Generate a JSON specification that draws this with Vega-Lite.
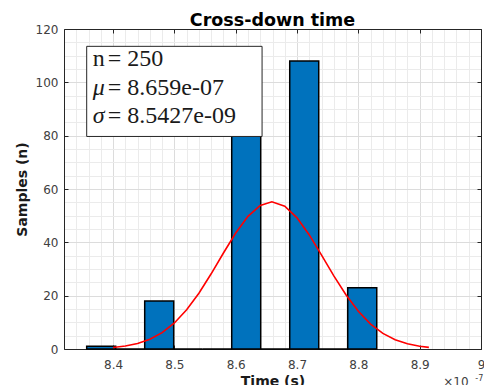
{
  "$schema": "https://vega.github.io/schema/vega-lite/v6.json",
  "autosize": {"type": "none"},
  "padding": {"left": 64, "top": 29, "right": 3, "bottom": 36},
  "width": 417,
  "height": 320,
  "background": "white",
  "title": {"text": "Cross-down time", "font": "DejaVu Sans", "fontSize": 17.5, "fontWeight": "bold", "color": "#000000", "offset": -20, "baseline": "alphabetic", "anchor": "middle"},
  "datasets": {
    "bins": [
      {"start": 8.357, "end": 8.4043, "count": 1},
      {"start": 8.4043, "end": 8.4516, "count": 0},
      {"start": 8.4516, "end": 8.4989, "count": 18},
      {"start": 8.4989, "end": 8.5462, "count": 0},
      {"start": 8.5462, "end": 8.5935, "count": 0},
      {"start": 8.5935, "end": 8.6408, "count": 100},
      {"start": 8.6408, "end": 8.6881, "count": 0},
      {"start": 8.6881, "end": 8.7354, "count": 108},
      {"start": 8.7354, "end": 8.7827, "count": 0},
      {"start": 8.7827, "end": 8.83, "count": 23}
    ],
    "curve": [
      {"t": 8.40, "v": 0.56}, {"t": 8.42, "v": 1.10}, {"t": 8.44, "v": 2.07}, {"t": 8.46, "v": 3.66},
      {"t": 8.48, "v": 6.14}, {"t": 8.50, "v": 9.77}, {"t": 8.52, "v": 14.69}, {"t": 8.54, "v": 20.92},
      {"t": 8.56, "v": 28.20}, {"t": 8.58, "v": 36.00}, {"t": 8.60, "v": 43.49}, {"t": 8.62, "v": 49.74},
      {"t": 8.64, "v": 53.85}, {"t": 8.659, "v": 55.2}, {"t": 8.68, "v": 53.56}, {"t": 8.70, "v": 49.19},
      {"t": 8.72, "v": 42.78}, {"t": 8.74, "v": 35.22}, {"t": 8.76, "v": 27.44}, {"t": 8.78, "v": 20.24},
      {"t": 8.80, "v": 14.14}, {"t": 8.82, "v": 9.35}, {"t": 8.84, "v": 5.85}, {"t": 8.86, "v": 3.47},
      {"t": 8.88, "v": 1.94}, {"t": 8.90, "v": 1.03}, {"t": 8.915, "v": 0.62}
    ],
    "box": [{"x1": 8.357, "x2": 8.643, "y1": 79.7, "y2": 113.5}],
    "stats": [
      {"x": 8.3668, "y": 106.0, "sym": "n", "style": "up", "rest": "= 250"},
      {"x": 8.3668, "y": 95.35, "sym": "μ", "style": "it", "rest": "= 8.659e-07"},
      {"x": 8.3668, "y": 84.7, "sym": "σ", "style": "it", "rest": "= 8.5427e-09"}
    ],
    "exp": [
      {"x": 8.9385, "y": -13.9, "label": "×10", "kind": "base"},
      {"x": 8.9907, "y": -12.0, "label": "-7", "kind": "sup"}
    ]
  },
  "resolve": {"axis": {"x": "independent", "y": "independent"}},
  "layer": [
    {
      "data": {"name": "box"},
      "mark": {"type": "rect", "opacity": 0},
      "encoding": {
        "x": {"field": "x1", "type": "quantitative", "scale": {"domain": [8.32, 9.0], "nice": false, "zero": false},
          "axis": {"orient": "top", "values": [8.32,8.34,8.36,8.38,8.42,8.44,8.46,8.48,8.52,8.54,8.56,8.58,8.62,8.64,8.66,8.68,8.72,8.74,8.76,8.78,8.82,8.84,8.86,8.88,8.92,8.94,8.96,8.98],
            "grid": true, "gridColor": "#ebebeb", "gridWidth": 1, "ticks": false, "labels": false, "domain": false, "title": null}},
        "y": {"field": "y1", "type": "quantitative", "scale": {"domain": [0, 120], "nice": false},
          "axis": {"orient": "right", "values": [5,10,15,25,30,35,45,50,55,65,70,75,85,90,95,105,110,115],
            "grid": true, "gridColor": "#ebebeb", "gridWidth": 1, "ticks": false, "labels": false, "domain": false, "title": null}}
      }
    },
    {
      "data": {"name": "bins"},
      "mark": {"type": "rect", "fill": "#0072BD", "stroke": "#000000", "strokeWidth": 1.5},
      "encoding": {
        "x": {"field": "start", "type": "quantitative",
          "axis": {"orient": "bottom", "values": [8.4, 8.5, 8.6, 8.7, 8.8, 8.9, 9.0],
            "labelExpr": "datum.value >= 8.999 ? '9' : format(datum.value, '.1f')", "labelFlush": false, "labelBound": false,
            "grid": true, "gridColor": "#dcdcdc", "tickSize": -4, "tickColor": "#262626", "domainColor": "#262626",
            "labelColor": "#404040", "labelFont": "DejaVu Sans", "labelFontSize": 12, "labelPadding": 14,
            "title": "Time (s)", "titleFont": "DejaVu Sans", "titleFontSize": 14, "titleFontWeight": "bold", "titleColor": "#1a1a1a", "titlePadding": 4}},
        "x2": {"field": "end"},
        "y": {"field": "count", "type": "quantitative",
          "axis": {"orient": "left", "values": [0, 20, 40, 60, 80, 100, 120],
            "grid": true, "gridColor": "#dcdcdc", "tickSize": -4, "tickColor": "#262626", "domainColor": "#262626",
            "labelColor": "#404040", "labelFont": "DejaVu Sans", "labelFontSize": 12, "labelPadding": 10,
            "title": "Samples (n)", "titleFont": "DejaVu Sans", "titleFontSize": 14, "titleFontWeight": "bold", "titleColor": "#1a1a1a", "titlePadding": 6}},
        "y2": {"datum": 0}
      }
    },
    {
      "data": {"name": "curve"},
      "mark": {"type": "line", "color": "#FF0000", "strokeWidth": 1.6},
      "encoding": {
        "x": {"field": "t", "type": "quantitative",
          "axis": {"orient": "top", "values": [8.4, 8.5, 8.6, 8.7, 8.8, 8.9, 9.0], "grid": false, "labels": false, "tickSize": -4, "tickColor": "#262626", "domainColor": "#262626", "title": null}},
        "y": {"field": "v", "type": "quantitative",
          "axis": {"orient": "right", "values": [0, 20, 40, 60, 80, 100, 120], "grid": false, "labels": false, "tickSize": -4, "tickColor": "#262626", "domainColor": "#262626", "title": null}}
      }
    },
    {
      "data": {"name": "box"},
      "mark": {"type": "rect", "fill": "#ffffff", "stroke": "#262626", "strokeWidth": 1},
      "encoding": {
        "x": {"field": "x1", "type": "quantitative", "axis": null},
        "x2": {"field": "x2"},
        "y": {"field": "y1", "type": "quantitative", "axis": null},
        "y2": {"field": "y2"}
      }
    },
    {
      "data": {"name": "stats"},
      "transform": [{"filter": "datum.style == 'up'"}],
      "mark": {"type": "text", "font": "Liberation Serif", "fontSize": 24, "align": "left", "baseline": "alphabetic", "color": "#1a1a1a"},
      "encoding": {
        "x": {"field": "x", "type": "quantitative", "axis": null},
        "y": {"field": "y", "type": "quantitative", "axis": null},
        "text": {"field": "sym"}
      }
    },
    {
      "data": {"name": "stats"},
      "transform": [{"filter": "datum.style == 'it'"}],
      "mark": {"type": "text", "font": "Liberation Serif", "fontSize": 24, "fontStyle": "italic", "align": "left", "baseline": "alphabetic", "color": "#1a1a1a"},
      "encoding": {
        "x": {"field": "x", "type": "quantitative", "axis": null},
        "y": {"field": "y", "type": "quantitative", "axis": null},
        "text": {"field": "sym"}
      }
    },
    {
      "data": {"name": "stats"},
      "mark": {"type": "text", "font": "Liberation Serif", "fontSize": 24, "align": "left", "baseline": "alphabetic", "color": "#1a1a1a", "dx": 15},
      "encoding": {
        "x": {"field": "x", "type": "quantitative", "axis": null},
        "y": {"field": "y", "type": "quantitative", "axis": null},
        "text": {"field": "rest"}
      }
    },
    {
      "data": {"name": "exp"},
      "mark": {"type": "text", "font": "DejaVu Sans", "align": "left", "baseline": "alphabetic", "color": "#404040"},
      "encoding": {
        "x": {"field": "x", "type": "quantitative", "axis": null},
        "y": {"field": "y", "type": "quantitative", "axis": null},
        "text": {"field": "label"},
        "size": {"field": "kind", "type": "nominal", "scale": {"domain": ["base", "sup"], "range": [12, 8]}, "legend": null}
      }
    }
  ]
}
